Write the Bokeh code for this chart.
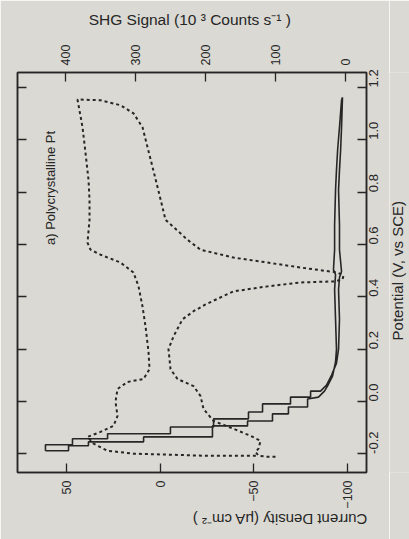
from math import pi
from bokeh.plotting import figure
from bokeh.layouts import row
from bokeh.models import Range1d, LinearAxis, FixedTicker, PrintfTickFormatter, CustomLabelingPolicy
from bokeh.embed import file_html
from bokeh.resources import INLINE
from bokeh.core.properties import value

# Current density loop (uA cm^-2) versus potential (V vs SCE)
current_potential = [-0.188, -0.188, -0.169, -0.169, -0.154, -0.154, -0.135, -0.135, -0.093, -0.093,
                     -0.074, -0.074, -0.047, -0.047, -0.021, -0.021, 0.010, 0.017, 0.040, 0.059,
                     0.097, 0.151, 0.200, 0.314, 0.428, 0.485, 0.504, 0.580, 0.675, 0.808,
                     0.884, 0.960, 1.048, 1.151, 1.162,
                     1.048, 0.960, 0.884, 0.808, 0.675, 0.580, 0.497, 0.474, 0.428, 0.314,
                     0.200, 0.147, 0.101, 0.063, 0.040, 0.040, 0.017, 0.017, -0.009, -0.009,
                     -0.040, -0.040, -0.066, -0.066, -0.097, -0.097, -0.123, -0.123, -0.142, -0.142,
                     -0.165, -0.165, -0.188]
current_density = [61.1, 48.8, 48.8, 38.2, 38.2, 8.8, 8.8, -27.9, -27.9, -46.6,
                   -46.6, -59.9, -59.9, -68.4, -68.4, -78.6, -78.6, -84.4, -87.6, -89.2,
                   -91.9, -93.5, -94.0, -93.5, -93.0, -93.5, -92.4, -93.0, -93.0, -93.5,
                   -94.0, -94.6, -95.6, -96.7, -97.2,
                   -96.7, -96.2, -95.6, -95.1, -95.6, -95.6, -96.7, -95.6, -95.1, -95.6,
                   -95.1, -94.0, -91.4, -88.7, -85.5, -80.2, -80.2, -69.5, -69.5, -54.6,
                   -54.6, -47.1, -47.1, -28.5, -28.5, -5.5, -5.5, 28.0, 28.0, 46.7,
                   46.7, 61.1, 61.1]

# SHG signal loop (10^3 counts/s) versus potential
shg_potential = [-0.211, -0.211, -0.207, -0.192, -0.180, -0.150, -0.131, -0.104, -0.074, -0.028,
                 0.021, 0.059, 0.086, 0.124, 0.200, 0.249, 0.314, 0.345, 0.371, 0.421,
                 0.440, 0.455, 0.459, 0.466, 0.481, 0.493, 0.512, 0.531, 0.550, 0.580,
                 0.618, 0.694, 0.820, 0.896, 0.972, 1.048, 1.101, 1.132, 1.151, 1.154,
                 1.048, 0.949, 0.846, 0.770, 0.694, 0.607, 0.580, 0.561, 0.531, 0.493,
                 0.440, 0.363, 0.287, 0.189, 0.124, 0.086, 0.075, 0.048, -0.001, -0.055,
                 -0.093, -0.116, -0.135, -0.161, -0.188, -0.199, -0.207, -0.207]
shg_signal = [100.0, 111.4, 124.3, 128.6, 124.3, 121.4, 135.7, 160.0, 188.6, 202.9,
              207.1, 217.1, 240.0, 250.0, 252.9, 245.7, 232.9, 217.1, 200.0, 160.0,
              111.4, 64.3, 17.1, 4.3, 2.9, 11.4, 64.3, 111.4, 160.0, 207.1,
              225.7, 257.1, 268.6, 275.7, 282.9, 290.0, 302.9, 321.4, 350.0, 382.9,
              375.7, 371.4, 367.1, 365.7, 365.7, 368.6, 364.3, 350.0, 321.4, 302.9,
              295.7, 290.0, 285.7, 281.4, 280.0, 288.6, 311.4, 325.7, 328.6, 325.7,
              331.4, 350.0, 368.6, 360.0, 340.0, 302.9, 200.0, 125.7]

potential_ticks = [-0.2, 0.0, 0.2, 0.4, 0.6, 0.8, 1.0, 1.2]
current_ticks = [-100, -50, 0, 50]
shg_ticks = [0, 100, 200, 300, 400]

BG = "#dad9d3"
INK = "#262626"
FONT = "Liberation Sans"

p = figure(width=389, height=539, output_backend="svg", toolbar_location=None,
           x_range=Range1d(76.0, -110.0), y_range=Range1d(-0.271, 1.257),
           x_axis_location="below", y_axis_location="left",
           min_border_left=17, min_border_right=23, min_border_top=72, min_border_bottom=65)
p.extra_x_ranges = {"shg": Range1d(468.6, -30.0)}
p.grid.visible = False
p.background_fill_color = BG
p.border_fill_color = BG
p.outline_line_color = INK
p.outline_line_width = 1.5


def style(ax):
    ax.major_tick_in = 9
    ax.major_tick_out = 0
    ax.minor_tick_in = 0
    ax.minor_tick_out = 0
    ax.axis_line_color = INK
    ax.axis_line_width = 1.5
    ax.major_tick_line_color = INK
    ax.major_tick_line_width = 1.3
    ax.major_label_text_font = FONT
    ax.major_label_text_color = INK
    ax.axis_label_text_font = FONT
    ax.axis_label_text_font_style = "normal"
    ax.axis_label_text_color = INK


# bottom: current density
bx = p.xaxis[0]
bx.ticker = FixedTicker(ticks=current_ticks)
style(bx)
bx.major_label_orientation = pi / 2
bx.major_label_text_font_size = "12.5px"
bx.major_label_standoff = 8
bx.axis_label = "Current Density (μA cm⁻² )"
bx.axis_label_text_font_size = "15px"
bx.axis_label_standoff = 8
bx.axis_label_orientation = pi

# left: potential ticks only (no labels, as in the reference)
ly = p.yaxis[0]
ly.ticker = FixedTicker(ticks=potential_ticks)
style(ly)
ly.major_label_text_font_size = "1px"
ly.major_label_standoff = 0
ly.major_label_policy = CustomLabelingPolicy(code="""
const n = indices.size
for (let i = 0; i < n; i++) { indices.unset(i) }
return indices
""")

# right: potential tick labels
ry = LinearAxis(ticker=FixedTicker(ticks=potential_ticks), formatter=PrintfTickFormatter(format="%.1f"))
style(ry)
ry.major_label_orientation = pi / 2
ry.major_label_text_font_size = "13px"
ry.major_label_standoff = 7
p.add_layout(ry, "right")

# top: SHG signal
tx = LinearAxis(x_range_name="shg", ticker=FixedTicker(ticks=shg_ticks))
style(tx)
tx.major_label_orientation = pi / 2
tx.major_label_text_font_size = "12.5px"
tx.major_label_standoff = 7
tx.axis_label = "SHG Signal  (10 ³ Counts s⁻¹ )"
tx.axis_label_text_font_size = "15.5px"
tx.axis_label_standoff = 14
p.add_layout(tx, "above")

p.line(current_density, current_potential, line_color=INK, line_width=1.6)
p.line(shg_signal, shg_potential, x_range_name="shg", line_color=INK, line_width=2.0, line_dash="3 3")

p.text(x=[58.4], y=[0.816], text=["a) Polycrystalline Pt"], angle=pi / 2,
       text_align="center", text_baseline="middle", text_color=INK,
       text_font=value(FONT), text_font_size="13px")

# narrow strip on the right carrying the potential-axis title, reading upwards
t = figure(width=20, height=539, output_backend="svg", toolbar_location=None,
           x_range=Range1d(0, 20), y_range=Range1d(0, 539),
           x_axis_location=None, y_axis_location=None,
           min_border_left=0, min_border_right=0, min_border_top=0, min_border_bottom=0)
t.grid.visible = False
t.background_fill_color = BG
t.border_fill_color = BG
t.outline_line_color = None
t.text(x=[7.5], y=[272], text=["Potential (V, vs SCE)"], angle=pi / 2,
       text_align="center", text_baseline="middle", text_color=INK,
       text_font=value(FONT), text_font_size="15px")

layout = row(p, t, spacing=0)
open("out.html", "w").write(file_html(layout, INLINE))
